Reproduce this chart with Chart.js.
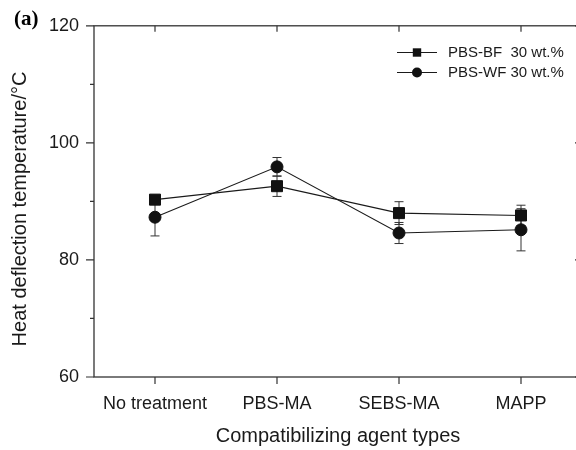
<!DOCTYPE html>
<html>
<head>
<meta charset="utf-8">
<script src="https://cdn.jsdelivr.net/npm/chart.js"></script>
<style>
  html, body { margin: 0; padding: 0; overflow: hidden; background: #fff; width: 576px; height: 450px; }
  #wrap { width: 600px; height: 450px; }
</style>
</head>
<body>
<div id="wrap"><canvas id="c" width="600" height="450"></canvas></div>
<script>
const categories = ['No treatment', 'PBS-MA', 'SEBS-MA', 'MAPP'];
const bfLabel = 'PBS-BF  30 wt.%';
const wfLabel = 'PBS-WF 30 wt.%';
const bfValues = [90.3, 92.6, 88.0, 87.6];
const bfErrors = [0.6, 1.75, 1.95, 1.75];
const wfValues = [87.3, 95.9, 84.6, 85.15];
const wfErrors = [3.2, 1.6, 1.8, 3.6];
const yMin = 60, yMax = 120, yStep = 20;
const yMinorTicks = [70, 90, 110];
const xTitle = 'Compatibilizing agent types';
const yTitle = 'Heat deflection temperature/°C';
const panelLabel = '(a)';

const INK = '#1a1a1a';
const FONT = "'Liberation Sans', Arial, sans-serif";

const decor = {
  id: 'decor',
  beforeDatasetsDraw(chart) {
    const ctx = chart.ctx;
    const ys = chart.scales.y;
    const ca = chart.chartArea;
    ctx.save();
    // frame
    ctx.strokeStyle = '#333';
    ctx.lineWidth = 1.3;
    ctx.strokeRect(ca.left, ca.top, ca.right - ca.left, ca.bottom - ca.top);
    // error bars
    ctx.strokeStyle = '#333';
    ctx.lineWidth = 1;
    chart.data.datasets.forEach((ds, i) => {
      const meta = chart.getDatasetMeta(i);
      meta.data.forEach((pt, j) => {
        const e = ds.errors[j];
        const v = ds.data[j];
        const yTop = ys.getPixelForValue(v + e);
        const yBot = ys.getPixelForValue(v - e);
        const x = pt.x;
        ctx.beginPath();
        ctx.moveTo(x, yTop); ctx.lineTo(x, yBot);
        ctx.moveTo(x - 4.5, yTop); ctx.lineTo(x + 4.5, yTop);
        ctx.moveTo(x - 4.5, yBot); ctx.lineTo(x + 4.5, yBot);
        ctx.stroke();
      });
    });
    ctx.restore();
  },
  afterDraw(chart) {
    const ctx = chart.ctx;
    const xs = chart.scales.x;
    const ys = chart.scales.y;
    const ca = chart.chartArea;
    ctx.save();
    ctx.strokeStyle = '#333';
    ctx.lineWidth = 1.2;
    ctx.beginPath();
    // left major ticks (outward) and right (inward)
    for (let v = yMin; v <= yMax; v += yStep) {
      const y = ys.getPixelForValue(v);
      ctx.moveTo(ca.left - 8, y); ctx.lineTo(ca.left, y);
      ctx.moveTo(ca.right - 7, y); ctx.lineTo(ca.right, y);
    }
    yMinorTicks.forEach(v => {
      const y = ys.getPixelForValue(v);
      ctx.moveTo(ca.left - 4, y); ctx.lineTo(ca.left, y);
    });
    categories.forEach((c, i) => {
      const x = xs.getPixelForValue(i);
      ctx.moveTo(x, ca.bottom); ctx.lineTo(x, ca.bottom + 7);
      ctx.moveTo(x, ca.top); ctx.lineTo(x, ca.top + 6);
    });
    ctx.stroke();

    // legend
    const rows = [52.5, 72.5];
    chart.data.datasets.forEach((ds, i) => {
      const y = rows[i];
      ctx.strokeStyle = INK;
      ctx.lineWidth = 1.2;
      ctx.beginPath();
      ctx.moveTo(397, y); ctx.lineTo(437, y);
      ctx.stroke();
      ctx.fillStyle = '#111';
      ctx.beginPath();
      if (ds.pointStyle === 'rect') {
        ctx.rect(417 - 4.2, y - 4.2, 8.4, 8.4);
      } else {
        ctx.arc(417, y, 5, 0, Math.PI * 2);
      }
      ctx.fill();
      ctx.fillStyle = INK;
      ctx.font = '15px ' + FONT;
      ctx.textAlign = 'left';
      ctx.textBaseline = 'middle';
      ctx.fillText(ds.label, 448, y + 0.5);
    });

    // y title
    ctx.save();
    ctx.translate(20, 209);
    ctx.rotate(-Math.PI / 2);
    ctx.font = '20px ' + FONT;
    ctx.fillStyle = INK;
    ctx.textAlign = 'center';
    ctx.textBaseline = 'middle';
    ctx.fillText(yTitle, 0, 0);
    ctx.restore();

    // panel label
    ctx.font = "bold 21px 'Liberation Serif', 'Times New Roman', serif";
    ctx.fillStyle = '#000';
    ctx.textAlign = 'left';
    ctx.textBaseline = 'middle';
    ctx.fillText(panelLabel, 14, 20);
    ctx.restore();
  }
};

new Chart(document.getElementById('c'), {
  type: 'line',
  data: {
    labels: categories,
    datasets: [
      {
        label: bfLabel,
        data: bfValues,
        errors: bfErrors,
        borderColor: INK,
        borderWidth: 1.1,
        pointStyle: 'rect',
        pointRadius: 7.8,
        pointBackgroundColor: '#111',
        pointBorderColor: '#111',
        pointBorderWidth: 1,
        tension: 0,
        clip: false
      },
      {
        label: wfLabel,
        data: wfValues,
        errors: wfErrors,
        borderColor: INK,
        borderWidth: 1.1,
        pointStyle: 'circle',
        pointRadius: 6,
        pointBackgroundColor: '#111',
        pointBorderColor: '#111',
        pointBorderWidth: 1,
        tension: 0,
        clip: false
      }
    ]
  },
  options: {
    responsive: false,
    animation: false,
    devicePixelRatio: 1,
    layout: { padding: { top: 18, right: 18, left: 0, bottom: 0 } },
    plugins: { legend: { display: false }, tooltip: { enabled: false } },
    scales: {
      x: {
        type: 'category',
        offset: true,
        grid: { display: false, drawTicks: false },
        border: { display: false },
        ticks: { color: INK, font: { family: FONT, size: 18 }, padding: 16, maxRotation: 0, autoSkip: false },
        title: { display: true, text: xTitle, color: INK, font: { family: FONT, size: 20 }, padding: { top: 0, bottom: 2 } },
        afterFit(s) { s.height = 73; }
      },
      y: {
        min: yMin,
        max: yMax,
        grid: { display: false, drawTicks: false },
        border: { display: false },
        ticks: { stepSize: yStep, color: INK, font: { family: FONT, size: 18 }, padding: 15 },
        afterFit(s) { s.width = 94; }
      }
    }
  },
  plugins: [decor]
});
</script>
</body>
</html>
